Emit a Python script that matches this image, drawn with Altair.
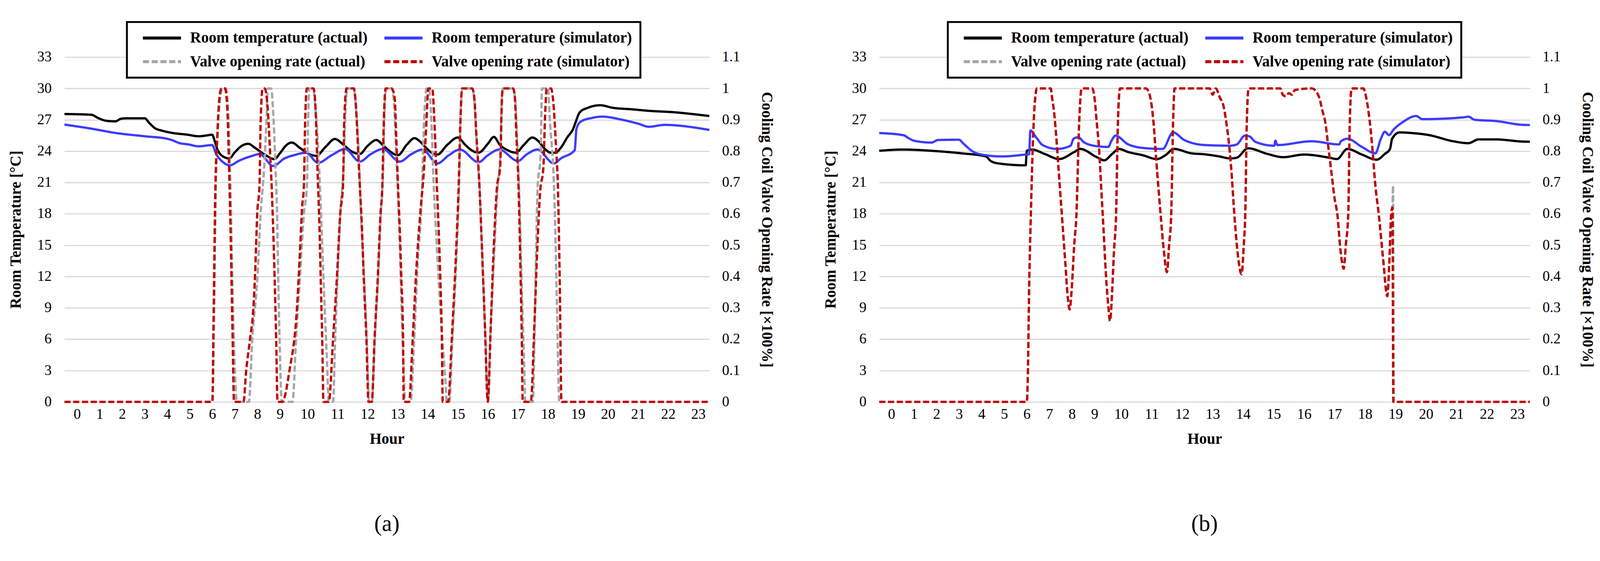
import altair as alt
import pandas as pd

SERIES = ["Room temperature (actual)", "Room temperature (simulator)",
          "Valve opening rate (actual)", "Valve opening rate (simulator)"]
COLORS = ["#000000", "#3c3cff", "#a6a6a6", "#c00000"]
DASHES = [[1, 0], [1, 0], [16, 7], [16, 7]]

HOUR_TICKS = list(range(24))
TEMP_TICKS = [0, 3, 6, 9, 12, 15, 18, 21, 24, 27, 30, 33]
RATE_TICKS = [0, 0.1, 0.2, 0.3, 0.4, 0.5, 0.6, 0.7, 0.8, 0.9, 1, 1.1]

# ---------------- panel (a) ----------------
a_temp_act_h = [-0.56, 0.63, 0.95, 1.3, 1.7, 1.95, 2.2, 3.0, 3.2, 3.45, 3.75, 4.2, 4.9, 5.4, 5.75, 5.99,
                6.1, 6.2, 6.4, 6.75, 7.0, 7.3, 7.59, 7.9, 8.3, 8.75, 9.0, 9.25, 9.47, 9.75, 10.0, 10.29,
                10.6, 10.91, 11.2, 11.45, 11.74, 12.0, 12.29, 12.5, 12.69, 13.01, 13.3, 13.56, 13.75, 13.9,
                14.1, 14.32, 14.65, 15.0, 15.25, 15.45, 15.69, 16.0, 16.2, 16.4, 16.65, 16.93, 17.2, 17.48,
                17.7, 17.9, 18.1, 18.25, 18.43, 18.64, 18.85, 18.92, 19.06, 19.33, 19.74, 20.15, 20.8,
                21.39, 22.2, 22.8, 23.37]
a_temp_act_v = [27.55, 27.48, 27.15, 26.9, 26.85, 27.1, 27.14, 27.14, 26.7, 26.2, 25.97, 25.75, 25.57, 25.42, 25.5, 25.57,
                25.0, 24.3, 23.6, 23.3, 23.9, 24.5, 24.7, 24.3, 23.7, 23.24, 23.8, 24.5, 24.82, 24.3, 23.8, 23.55,
                24.4, 25.16, 24.6, 24.0, 23.73, 24.5, 25.06, 24.6, 24.1, 23.61, 24.6, 25.24, 24.9, 24.45,
                23.9, 23.67, 24.6, 25.3, 24.6, 24.1, 23.85, 24.7, 25.36, 24.6, 24.1, 23.85, 24.6, 25.3,
                24.9, 24.2, 23.85, 23.85, 24.33, 25.3, 26.21, 26.76, 27.72, 28.15, 28.39, 28.15, 28.0,
                27.85, 27.72, 27.55, 27.36]

a_temp_sim_h = [-0.56, 0.63, 1.73, 3.01, 4.0, 4.2, 4.55, 4.94, 5.39, 5.99, 6.17, 6.5, 6.77, 7.2, 7.7, 8.14,
                8.3, 8.69, 9.2, 9.6, 9.95, 10.35, 10.8, 11.25, 11.74, 12.1, 12.5, 13.07, 13.45, 13.83, 14.32,
                14.7, 15.07, 15.69, 16.0, 16.38, 17.0, 17.3, 17.65, 18.2, 18.43, 18.89, 18.95, 19.09, 19.47,
                19.8, 20.47, 21.0, 21.36, 21.87, 23.37]
a_temp_sim_v = [26.54, 26.15, 25.73, 25.42, 25.18, 25.06, 24.76, 24.64, 24.46, 24.58, 23.73, 22.9, 22.64, 23.1, 23.5, 23.73,
                23.4, 22.58, 23.3, 23.65, 23.85, 22.88, 23.6, 24.2, 23.0, 23.7, 24.2, 23.0, 23.7, 24.15, 22.82,
                23.6, 24.15, 22.94, 23.6, 24.15, 23.06, 23.7, 24.15, 22.82, 23.3, 24.09, 26.15, 26.82, 27.18,
                27.3, 27.0, 26.63, 26.33, 26.51, 26.03]

a_valve_act_h = [-0.56, 6.0, 6.08, 6.15, 6.25, 6.35, 6.45, 6.6, 6.7, 6.8, 6.9, 7.0, 7.08, 7.62, 7.77, 8.0, 8.14,
                 8.3, 8.4, 8.46, 8.6, 8.7, 8.8, 8.87, 8.92, 8.98, 9.08, 9.5, 9.62, 9.75, 9.88, 9.98, 10.02, 10.06,
                 10.19, 10.27, 10.35, 10.45, 10.55, 10.64, 10.71, 10.85, 10.92, 11.0, 11.09, 11.2, 11.26, 11.32,
                 11.54, 11.62, 11.7, 11.78, 11.88, 11.97, 12.05, 12.14, 12.24, 12.35, 12.44, 12.52, 12.56, 12.62,
                 12.8, 12.88, 12.94, 13.0, 13.07, 13.13, 13.2, 13.25, 13.43, 13.55, 13.67, 13.8, 13.86, 13.92,
                 13.96, 14.04, 14.12, 14.2, 14.3, 14.45, 14.6, 14.63, 14.72, 14.82, 14.95, 15.04, 15.1, 15.15,
                 15.48, 15.56, 15.63, 15.72, 15.82, 15.92, 16.0, 16.08, 16.2, 16.32, 16.42, 16.46, 16.5, 16.84,
                 16.92, 16.98, 17.05, 17.12, 17.2, 17.25, 17.5, 17.55, 17.6, 17.65, 17.76, 17.8, 18.0, 18.07,
                 18.2, 18.23, 18.3, 18.38, 23.37]
a_valve_act_v = [0, 0, 0.3, 0.67, 0.88, 0.97, 1, 1, 0.93, 0.7, 0.35, 0.1, 0, 0, 0.2, 0.4, 0.6,
                 0.75, 0.9, 1, 1, 0.92, 0.75, 0.6, 0.4, 0.2, 0, 0, 0.2, 0.4, 0.6, 0.69, 0.9, 1,
                 1, 0.93, 0.82, 0.6, 0.35, 0.15, 0, 0, 0.2, 0.4, 0.6, 0.75, 0.92, 1,
                 1, 0.93, 0.8, 0.6, 0.4, 0.2, 0, 0, 0.2, 0.4, 0.6, 0.75, 0.92, 1,
                 1, 0.95, 0.82, 0.69, 0.5, 0.3, 0.1, 0, 0, 0.2, 0.45, 0.65, 0.85, 0.97,
                 1, 1, 0.9, 0.69, 0.5, 0.25, 0.05, 0, 0, 0.2, 0.45, 0.69, 0.93, 1,
                 1, 0.95, 0.82, 0.69, 0.45, 0.2, 0, 0.2, 0.45, 0.68, 0.8, 0.95, 1, 1,
                 0.95, 0.82, 0.65, 0.4, 0.15, 0, 0, 0.2, 0.45, 0.67, 0.8, 1, 1, 0.89,
                 0.69, 0.6, 0.3, 0, 0]

a_valve_sim_h = [-0.56, 6.0, 6.06, 6.13, 6.22, 6.3, 6.4, 6.56, 6.66, 6.74, 6.82, 6.9, 6.96, 7.38, 7.5, 7.67,
                 7.82, 7.89, 7.94, 7.99, 8.09, 8.14, 8.23, 8.32, 8.46, 8.55, 8.65, 8.76, 8.83, 8.89, 9.1, 9.4,
                 9.65, 9.76, 9.82, 9.88, 9.92, 9.98, 10.2, 10.27, 10.33, 10.4, 10.45, 10.49, 10.53, 10.71, 10.85,
                 10.98, 11.09, 11.18, 11.22, 11.3, 11.54, 11.62, 11.68, 11.74, 11.8, 11.87, 11.96, 12.03, 12.14,
                 12.23, 12.34, 12.43, 12.49, 12.54, 12.6, 12.8, 12.9, 12.95, 13.01, 13.07, 13.12, 13.18, 13.2,
                 13.38, 13.5, 13.62, 13.75, 13.88, 13.96, 14.02, 14.15, 14.22, 14.3, 14.4, 14.47, 14.5, 14.68,
                 14.8, 14.93, 15.03, 15.1, 15.14, 15.48, 15.55, 15.62, 15.72, 15.8, 15.9, 16.0, 16.1, 16.2, 16.3,
                 16.41, 16.47, 16.5, 16.84, 16.9, 16.95, 17.02, 17.08, 17.13, 17.16, 17.43, 17.55, 17.65, 17.74,
                 17.85, 17.9, 17.96, 18.1, 18.2, 18.27, 18.33, 18.39, 18.45, 23.37]
a_valve_sim_v = [0, 0, 0.3, 0.67, 0.85, 0.96, 1, 1, 0.94, 0.75, 0.5, 0.2, 0, 0, 0.1, 0.2,
                 0.3, 0.4, 0.5, 0.6, 0.69, 0.89, 1, 1, 0.93, 0.81, 0.65, 0.4, 0.2, 0, 0, 0.1,
                 0.3, 0.5, 0.62, 0.69, 0.89, 1, 1, 0.93, 0.75, 0.55, 0.35, 0.2, 0, 0, 0.2,
                 0.4, 0.6, 0.69, 0.89, 1, 1, 0.93, 0.81, 0.69, 0.58, 0.4, 0.2, 0, 0,
                 0.2, 0.4, 0.6, 0.69, 0.9, 1, 1, 0.97, 0.85, 0.69, 0.55, 0.4, 0.2, 0,
                 0, 0.2, 0.42, 0.6, 0.75, 0.9, 1, 1, 0.9, 0.7, 0.45, 0.2, 0, 0,
                 0.2, 0.45, 0.69, 0.93, 1, 1, 0.97, 0.85, 0.69, 0.5, 0.25, 0, 0.25, 0.5, 0.68,
                 0.75, 0.97, 1, 1, 0.97, 0.85, 0.69, 0.45, 0.2, 0, 0, 0.25, 0.5, 0.67,
                 0.75, 0.9, 1, 1, 0.93, 0.81, 0.69, 0.4, 0, 0]

# ---------------- panel (b) ----------------
b_temp_act_h = [-0.54, 0.5, 1.78, 3.1, 4.19, 4.4, 4.75, 5.95, 6.0, 6.23, 6.79, 7.43, 8.1, 8.37, 9.1, 9.43,
                9.7, 9.92, 10.23, 10.7, 11.17, 11.45, 11.73, 12.3, 12.72, 13.2, 13.58, 13.79, 14.16, 14.8,
                15.31, 16.0, 16.83, 17.08, 17.42, 17.9, 18.38, 18.65, 18.82, 18.89, 19.13, 19.54, 20.09,
                20.9, 21.39, 21.73, 22.29, 23.21, 23.41]
b_temp_act_v = [24.03, 24.15, 24.03, 23.79, 23.49, 23.06, 22.82, 22.64, 24.03, 24.15, 23.73, 23.24, 23.91, 24.21, 23.42, 23.12,
                23.73, 24.21, 23.91, 23.61, 23.24, 23.61, 24.21, 23.79, 23.7, 23.5, 23.3, 23.37, 24.27, 23.73,
                23.42, 23.67, 23.37, 23.24, 24.21, 23.67, 23.18, 23.73, 24.21, 25.18, 25.79, 25.73, 25.54,
                24.94, 24.76, 25.12, 25.12, 24.91, 24.9]

b_temp_sim_h = [-0.54, 0.54, 0.76, 1.0, 1.78, 2.06, 2.99, 3.2, 3.6, 4.0, 4.9, 5.95, 6.1, 6.16, 6.42, 6.7,
                7.34, 7.94, 8.07, 8.27, 8.55, 9.15, 9.57, 9.68, 9.81, 10.23, 10.83, 11.36, 11.7, 12.07, 12.75,
                13.58, 13.79, 14.06, 14.2, 14.41, 15.02, 15.06, 15.12, 16.25, 17.15, 17.21, 17.42, 17.9, 18.34,
                18.52, 18.65, 18.79, 18.93, 19.26, 19.68, 19.88, 21.26, 21.39, 21.6, 22.29, 23.21, 23.41]
b_temp_sim_v = [25.73, 25.52, 25.24, 25.0, 24.82, 25.06, 25.09, 24.7, 23.97, 23.67, 23.49, 23.67, 23.7, 25.97, 25.3, 24.58,
                24.21, 24.52, 25.18, 25.33, 24.82, 24.46, 24.4, 25.0, 25.48, 24.64, 24.27, 24.21, 25.79, 25.06, 24.58,
                24.52, 24.64, 25.48, 25.42, 24.88, 24.52, 25.0, 24.58, 24.94, 24.64, 24.94, 25.18, 24.4, 23.79,
                25.18, 25.85, 25.54, 26.03, 26.82, 27.36, 27.06, 27.24, 27.3, 27.0, 26.88, 26.51, 26.5]

b_valve_sim_h = [-0.54, 6.0, 6.05, 6.1, 6.18, 6.28, 6.36, 6.45, 7.06, 7.12, 7.2, 7.3, 7.42, 7.55, 7.7, 7.82,
                 7.9, 7.98, 8.1, 8.2, 8.32, 8.43, 8.9, 9.0, 9.1, 9.2, 9.3, 9.4, 9.5, 9.58, 9.63, 9.7, 9.76,
                 9.83, 9.89, 9.96, 10.81, 10.93, 11.06, 11.15, 11.29, 11.4, 11.5, 11.57, 11.64, 11.7, 11.75,
                 12.9, 13.0, 13.1, 13.24, 13.34, 13.45, 13.55, 13.62, 13.71, 13.85, 13.95, 14.02, 14.07, 14.12,
                 14.18, 15.22, 15.3, 15.4, 15.5, 15.6, 15.7, 16.25, 16.4, 16.5, 16.6, 16.7, 16.8, 16.9, 17.0,
                 17.09, 17.2, 17.3, 17.37, 17.45, 17.5, 17.56, 17.95, 18.04, 18.15, 18.25, 18.34, 18.45, 18.6,
                 18.73, 18.8, 18.86, 18.9, 18.93, 23.41]
b_valve_sim_v = [0, 0, 0.1, 0.35, 0.6, 0.85, 0.96, 1, 1, 0.97, 0.93, 0.85, 0.73, 0.6, 0.45, 0.33,
                 0.295, 0.35, 0.5, 0.6, 0.89, 1, 1, 0.97, 0.89, 0.81, 0.68, 0.55, 0.4, 0.3, 0.258, 0.35, 0.48,
                 0.6, 0.89, 1, 1, 0.98, 0.89, 0.77, 0.6, 0.48, 0.414, 0.5, 0.6, 0.89, 1,
                 1, 0.98, 1, 0.97, 0.95, 0.89, 0.81, 0.73, 0.6, 0.45, 0.407, 0.5, 0.6, 0.89,
                 1, 1, 0.98, 0.975, 0.985, 0.98, 0.995, 1, 0.99, 0.97, 0.93, 0.89, 0.81, 0.73, 0.65,
                 0.6, 0.48, 0.425, 0.5, 0.6, 0.89, 1, 1, 0.97, 0.9, 0.8, 0.69, 0.6, 0.45,
                 0.337, 0.45, 0.6, 0.62, 0, 0]

# actual valve in (b) lies under the simulator trace, with a short spike at 18.9 h
b_valve_act_h = [-0.54, 6.0, 6.05, 6.1, 6.18, 6.28, 6.36, 6.45, 7.06, 7.12, 7.2, 7.3, 7.42, 7.55, 7.7, 7.82,
                 7.9, 7.98, 8.1, 8.2, 8.32, 8.43, 8.9, 9.0, 9.1, 9.2, 9.3, 9.4, 9.5, 9.58, 9.63, 9.7, 9.76,
                 9.83, 9.89, 9.96, 10.81, 10.93, 11.06, 11.15, 11.29, 11.4, 11.5, 11.57, 11.64, 11.7, 11.75,
                 12.9, 13.0, 13.1, 13.24, 13.34, 13.45, 13.55, 13.62, 13.71, 13.85, 13.95, 14.02, 14.07, 14.12,
                 14.18, 15.22, 15.3, 15.4, 15.5, 15.6, 15.7, 16.25, 16.4, 16.5, 16.6, 16.7, 16.8, 16.9, 17.0,
                 17.09, 17.2, 17.3, 17.37, 17.45, 17.5, 17.56, 17.95, 18.04, 18.15, 18.25, 18.34, 18.45, 18.6,
                 18.73, 18.8, 18.86, 18.9, 18.92, 18.95, 23.41]
b_valve_act_v = [0, 0, 0.1, 0.35, 0.6, 0.85, 0.96, 1, 1, 0.97, 0.93, 0.85, 0.73, 0.6, 0.45, 0.33,
                 0.295, 0.35, 0.5, 0.6, 0.89, 1, 1, 0.97, 0.89, 0.81, 0.68, 0.55, 0.4, 0.3, 0.258, 0.35, 0.48,
                 0.6, 0.89, 1, 1, 0.98, 0.89, 0.77, 0.6, 0.48, 0.414, 0.5, 0.6, 0.89, 1,
                 1, 0.98, 1, 0.97, 0.95, 0.89, 0.81, 0.73, 0.6, 0.45, 0.407, 0.5, 0.6, 0.89,
                 1, 1, 0.98, 0.975, 0.985, 0.98, 0.995, 1, 0.99, 0.97, 0.93, 0.89, 0.81, 0.73, 0.65,
                 0.6, 0.48, 0.425, 0.5, 0.6, 0.89, 1, 1, 0.97, 0.9, 0.8, 0.69, 0.6, 0.45,
                 0.337, 0.45, 0.6, 0.62, 0.69, 0, 0]

FONT = "Liberation Serif"


def frame(h, v, name):
    return pd.DataFrame({"h": h, "v": v, "series": name})


def panel(tag, xdomain, xbreak, width, legend_x, temp_act, temp_sim, valve_act, valve_sim):
    height = 905
    legend = alt.Legend(
        title=None, orient="none", legendX=legend_x, legendY=-92, columns=2, direction="horizontal",
        symbolType="M0,0H8", symbolSize=625, symbolStrokeWidth=8,
        labelFont=FONT, labelFontSize=40, labelFontWeight="bold", labelColor="black",
        labelLimit=2000, labelOffset=104, columnPadding=24, rowPadding=22,
        padding=22, fillColor="white", strokeColor="black",
    )
    xscale = alt.Scale(domain=xdomain, range=[0, xbreak, width], nice=False, zero=False)
    xaxis = alt.Axis(values=HOUR_TICKS, title="Hour", grid=False, labelPadding=14, titlePadding=26,
                     labelFlush=False)
    color = alt.Color("series:N", scale=alt.Scale(domain=SERIES, range=COLORS), legend=legend)
    dash = alt.StrokeDash("series:N", scale=alt.Scale(domain=SERIES, range=DASHES), legend=legend)

    tscale = alt.Scale(domain=[0, 33], nice=False, zero=True)
    taxis = alt.Axis(values=TEMP_TICKS, title="Room Temperature [\u00b0C]", orient="left", grid=True,
                     gridColor="#d9d9d9", gridWidth=3, labelPadding=34, titlePadding=35)
    vscale = alt.Scale(domain=[0, 1.1], nice=False, zero=True)
    vaxis = alt.Axis(values=RATE_TICKS, title="Cooling Coil Valve Opening Rate [\u00d7100%]", orient="right",
                     grid=False, format="~g", labelPadding=33, titlePadding=50)

    x = alt.X("h:Q", scale=xscale, axis=xaxis)

    def tline(df):
        return alt.Chart(df).mark_line(strokeWidth=6, interpolate="monotone").encode(
            x=x, y=alt.Y("v:Q", scale=tscale, axis=taxis), color=color, strokeDash=dash,
            order=alt.Order("h:Q"))

    def vline(df):
        return alt.Chart(df).mark_line(strokeWidth=6, interpolate="monotone").encode(
            x=x, y=alt.Y("v:Q", scale=vscale, axis=vaxis), color=color, strokeDash=dash,
            order=alt.Order("h:Q"))

    temps = alt.layer(tline(temp_act), tline(temp_sim))
    valves = alt.layer(vline(valve_act), vline(valve_sim))
    return alt.layer(temps, valves).resolve_scale(y="independent").properties(
        width=width, height=height,
        title=alt.TitleParams(tag, orient="bottom", anchor="middle", fontSize=60, font=FONT,
                              fontWeight="normal", color="black", offset=174),
    )


pa = panel("(a)", [-0.56, 9.34, 23.37], 586, 1693, 164,
           frame(a_temp_act_h, a_temp_act_v, SERIES[0]), frame(a_temp_sim_h, a_temp_sim_v, SERIES[1]),
           frame(a_valve_act_h, a_valve_act_v, SERIES[2]), frame(a_valve_sim_h, a_valve_sim_v, SERIES[3]))
pb = panel("(b)", [-0.54, 9.47, 23.41], 593, 1708, 180,
           frame(b_temp_act_h, b_temp_act_v, SERIES[0]), frame(b_temp_sim_h, b_temp_sim_v, SERIES[1]),
           frame(b_valve_act_h, b_valve_act_v, SERIES[2]), frame(b_valve_sim_h, b_valve_sim_v, SERIES[3]))

chart = alt.hconcat(pa, pb, spacing=128).resolve_scale(
    color="independent", strokeDash="independent"
).properties(
    padding={"left": 14, "top": 29, "right": 5, "bottom": 5},
    background="white",
).configure_view(stroke=None).configure_axis(
    labelFont=FONT, labelFontSize=38, labelColor="black",
    titleFont=FONT, titleFontSize=40, titleFontWeight="bold", titleColor="black",
    domain=False, ticks=False,
).configure_legend(strokeWidth=5)

chart.save("out.html", embed_options={"renderer": "svg", "actions": False})
